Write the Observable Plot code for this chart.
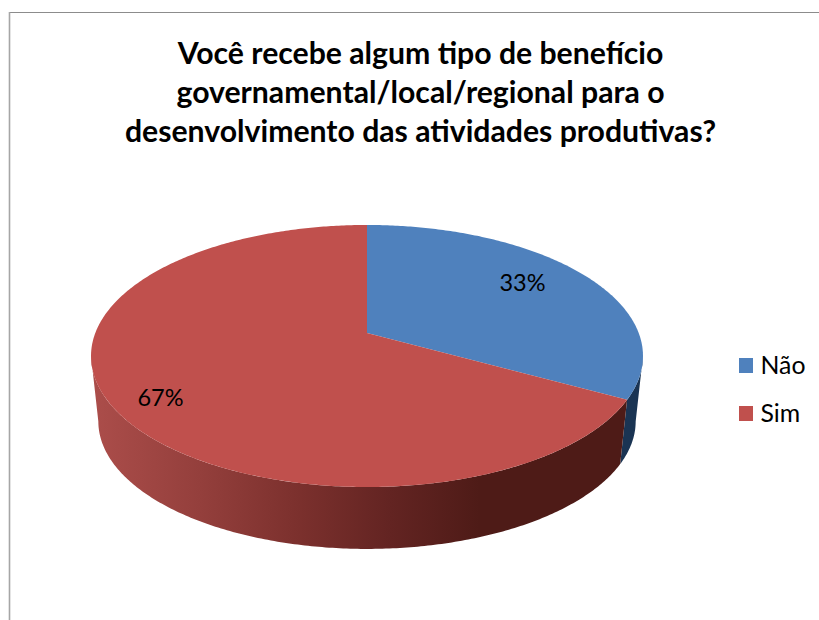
<!DOCTYPE html>
<html lang="pt">
<head>
<meta charset="utf-8">
<script src="https://cdn.jsdelivr.net/npm/d3@7"></script>
<script src="https://cdn.jsdelivr.net/npm/@observablehq/plot@0.6"></script>
<style>html,body{margin:0;padding:0;background:#fff}svg{display:block}</style>
</head>
<body>
<div id="chart"></div>
<script>
const categories = ["Não", "Sim"];
const shares = [33, 67];
const titleLines = [
  "Você recebe algum tipo de benefício",
  "governamental/local/regional para o",
  "desenvolvimento das atividades produtivas?"
];

const topColors = ["#4f81bd", "#c0504d"];
const wallFills = ["#1a3453", "url(#wallRed)"];

// Perspective disc: a projective map of the unit circle, one for each face.
const p = 0.1755;
const topFace = {cx: 367, cy: 333, A: 271.7, B: 127};
const baseFace = {cx: 367, cy: 399, A: 264.5, B: 123.6};
const project = (face, a) => {
  const u = Math.sin(a), v = Math.cos(a), w = 1 + p * v;
  return [face.cx + face.A * u / w, face.cy - face.B * v / w];
};
const total = d3.sum(shares);
const arcs = [];
let cum = 0;
categories.forEach((c, i) => {
  const a0 = cum / total * 2 * Math.PI;
  cum += shares[i];
  arcs.push({c, i, a0, a1: cum / total * 2 * Math.PI});
});

// top faces: a fan from the apex to the rim
const topPts = arcs.flatMap(s => {
  const n = Math.ceil((s.a1 - s.a0) * 90);
  return d3.range(n + 1).map(k => {
    const [x, y] = project(topFace, s.a0 + (s.a1 - s.a0) * k / n);
    return {c: s.c, x1: topFace.cx, y1: topFace.cy, x2: x, y2: y, fill: topColors[s.i]};
  });
});

// visible wall: between the two silhouette angles
const wallStart = Math.PI - Math.asin(Math.sqrt(1 - p * p));
const wallEnd = 2 * Math.PI - wallStart;
const wallPts = arcs.flatMap(s => {
  const from = Math.max(s.a0, wallStart), to = Math.min(s.a1, wallEnd);
  if (to <= from) return [];
  const n = Math.ceil((to - from) * 90);
  return d3.range(n + 1).map(k => {
    const a = from + (to - from) * k / n;
    const [x1, y1] = project(topFace, a), [x2, y2] = project(baseFace, a);
    return {c: s.c, x1, y1, x2, y2, fill: wallFills[s.i]};
  });
});

const gradientStops = [
  [95, "#ab4d4a"], [200, "#943f3c"], [300, "#7b302d"], [390, "#632422"], [480, "#4e1b17"]
];
const gradientDefs = () => {
  const ns = "http://www.w3.org/2000/svg";
  const defs = document.createElementNS(ns, "defs");
  const g = document.createElementNS(ns, "linearGradient");
  g.setAttribute("id", "wallRed");
  g.setAttribute("gradientUnits", "userSpaceOnUse");
  g.setAttribute("x1", gradientStops[0][0]);
  g.setAttribute("x2", gradientStops[gradientStops.length - 1][0]);
  g.setAttribute("y1", 0);
  g.setAttribute("y2", 0);
  const span = gradientStops[gradientStops.length - 1][0] - gradientStops[0][0];
  for (const [x, color] of gradientStops) {
    const stop = document.createElementNS(ns, "stop");
    stop.setAttribute("offset", (x - gradientStops[0][0]) / span);
    stop.setAttribute("stop-color", color);
    g.append(stop);
  }
  defs.append(g);
  return defs;
};

const labels = [{t: `${shares[0]}%`, x: 522, y: 283}, {t: `${shares[1]}%`, x: 160, y: 398}];
const legendRows = categories.map((c, i) => ({c, color: topColors[i], y: 365.5 + i * 48}));
const titleRows = titleLines.map((t, i) => ({t, y: 53.5 + i * 39}));

const chart = Plot.plot({
  width: 819, height: 620,
  margin: 0,
  x: {type: "identity", axis: null},
  y: {type: "identity", axis: null},
  style: {background: "#fff", fontFamily: "Lato, sans-serif"},
  marks: [
    gradientDefs,
    Plot.ruleY([12], {x1: 9, x2: 819, stroke: "#8c8c8c", strokeWidth: 1.2}),
    Plot.ruleX([9], {y1: 12, y2: 620, stroke: "#a6a6a6", strokeWidth: 1.6}),
    Plot.area(wallPts, {x1: "x1", y1: "y1", x2: "x2", y2: "y2", z: "c", fill: "fill", curve: "linear"}),
    Plot.area(topPts, {x1: "x1", y1: "y1", x2: "x2", y2: "y2", z: "c", fill: "fill", curve: "linear"}),
    Plot.text(labels, {x: "x", y: "y", text: "t", fontSize: 23.5, fill: "#000"}),
    Plot.text(titleRows, {x: 420, y: "y", text: "t", fontSize: 30.2, fontWeight: 700, fill: "#000"}),
    Plot.rect(legendRows, {x1: 739, x2: 753, y1: d => d.y - 7.5, y2: d => d.y + 7.5, fill: "color"}),
    Plot.text(legendRows, {x: 760, y: "y", text: "c", fontSize: 24.8, textAnchor: "start", fill: "#000"})
  ]
});
document.getElementById("chart").append(chart);
</script>
</body>
</html>
